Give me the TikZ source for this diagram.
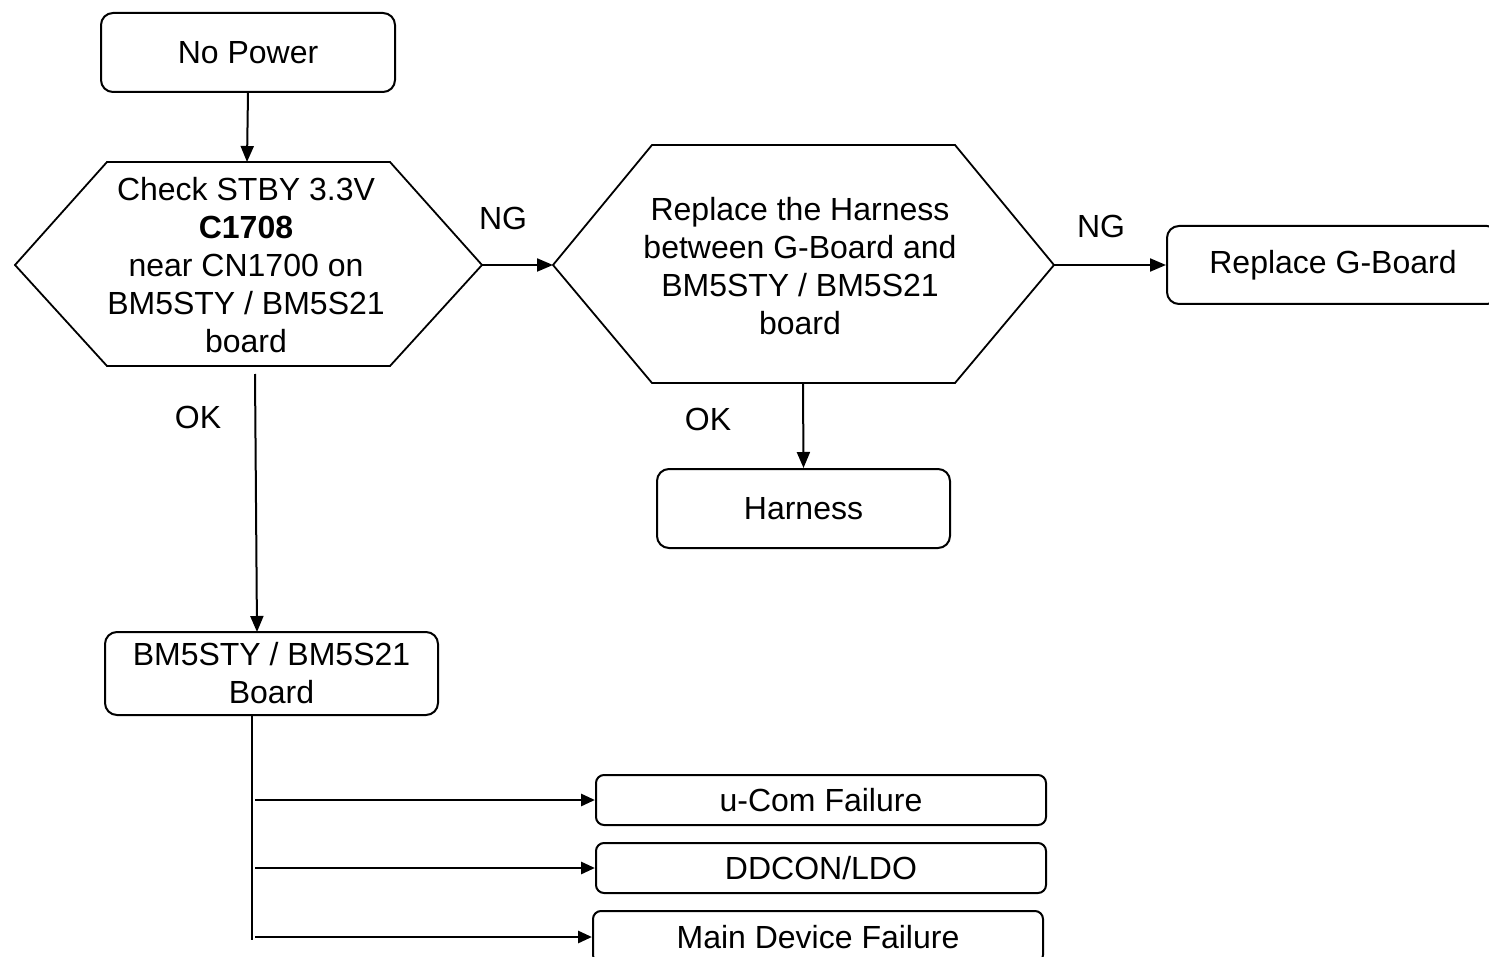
\documentclass[tikz,border=0pt]{standalone}
\usepackage{fontspec}
\setmainfont{Liberation Sans}
\usetikzlibrary{arrows.meta}
\begin{document}
\begin{tikzpicture}[x=0.5pt,y=-0.5pt,
  every node/.style={font=\fontsize{16}{19}\selectfont,align=center,inner sep=0pt},
  bigbox/.style={draw,line width=1pt,rounded corners=6pt},
  smallbox/.style={draw,line width=1pt,rounded corners=4pt,minimum width=225pt},
  hexa/.style={draw,line width=0.9pt},
  arr/.style={-{Triangle[length=8pt,width=6.5pt]},line width=1pt},
  barr/.style={-{Triangle[length=7pt,width=6pt]},line width=1.4pt},
  plain/.style={line width=0.9pt}]
\useasboundingbox (0,0) rectangle (1489,957);
\clip (0,0) rectangle (1489,957);
% boxes
\node[bigbox,minimum width=147pt,minimum height=39.5pt] (np) at (248,52.5) {No Power};
\node[bigbox,minimum width=166pt,minimum height=39pt] (rg) at (1333,265) {Replace G-Board};
\node[bigbox,minimum width=146.5pt,minimum height=39.5pt] (har) at (803.5,508.5) {Harness};
\node[bigbox,minimum width=166.5pt,minimum height=41.5pt] (bm) at (271.5,673.5) {BM5STY / BM5S21\\Board};
\node[smallbox,minimum height=25pt] (uc) at (821,800) {u-Com Failure};
\node[smallbox,minimum height=25pt] (dd) at (821,868) {DDCON/LDO};
\node[smallbox,minimum height=26pt] (md) at (818,937) {Main Device Failure};
% hexagon 1
\coordinate (h1n) at (247,162);
\coordinate (h1w) at (15,265);
\coordinate (h1e) at (482,265);
\coordinate (h1s) at (255,374);
\draw[hexa] (107,162) -- (390,162) -- (h1e) -- (390,366) -- (107,366) -- (h1w) -- cycle;
\node (h1) at (246,265) {Check STBY 3.3V\\\textbf{C1708}\\near CN1700 on\\BM5STY / BM5S21\\board};
% hexagon 2
\coordinate (h2w) at (553,265);
\coordinate (h2e) at (1054,265);
\coordinate (h2s) at (803,383);
\draw[hexa] (652,145) -- (955,145) -- (h2e) -- (955,383) -- (652,383) -- (h2w) -- cycle;
\node (h2) at (800,266) {Replace the Harness\\between G-Board and\\BM5STY / BM5S21\\board};
% connectors
\draw[arr] (np.south) -- (h1n);
\draw[arr] (h1e) -- (h2w);
\node (ng1) at (503,218) {NG};
\draw[arr] (h2e) -- (rg.west);
\node (ng2) at (1101,226) {NG};
\draw[arr] (h2s) -- (har.north);
\node (ok2) at (708,419) {OK};
\coordinate (bmt) at (257,632);
\draw[arr] (h1s) -- (bmt);
\node (ok1) at (198,417) {OK};
\coordinate (t0) at (252,715);
\coordinate (t1) at (252,940);
\draw[plain] (t0) -- (t1);
\coordinate (b1) at (255,800);
\coordinate (b2) at (255,868);
\coordinate (b3) at (255,937);
\draw[barr] (b1) -- (uc.west);
\draw[barr] (b2) -- (dd.west);
\draw[barr] (b3) -- (md.west);
\end{tikzpicture}
\end{document}
